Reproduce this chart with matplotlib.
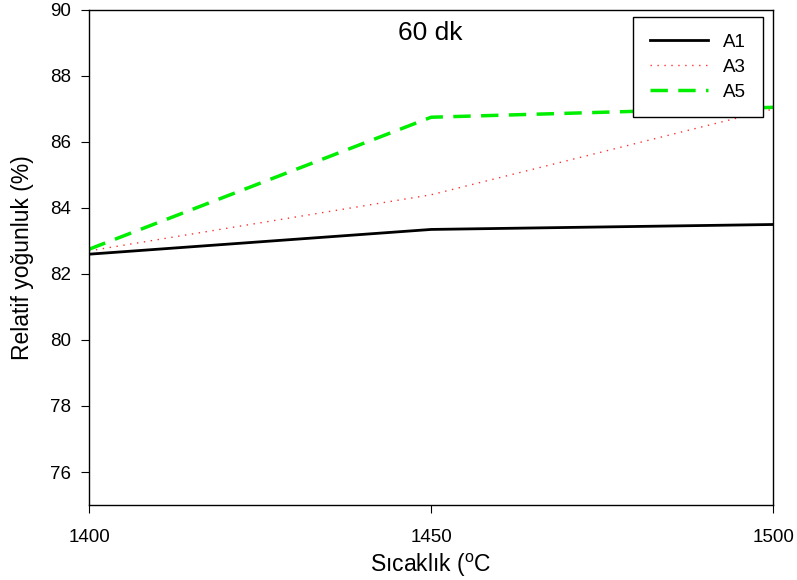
import matplotlib
matplotlib.use('Agg')
import matplotlib.pyplot as plt

plt.rcParams['font.family'] = ['Liberation Sans', 'DejaVu Sans']
plt.rcParams['mathtext.fontset'] = 'custom'
plt.rcParams['mathtext.rm'] = 'Liberation Sans'

temps = [1400, 1450, 1500]
a1 = [82.6, 83.35, 83.5]
a3 = [82.7, 84.4, 87.0]
a5 = [82.75, 86.75, 87.05]

fig = plt.figure(figsize=(7.97, 5.80), dpi=100)
ax = fig.add_axes([0.1117, 0.1293, 0.8585, 0.8535])

ax.plot(temps, a1, color='black', lw=2, label='A1')
ax.plot(temps, a3, color='#ff3030', lw=1, ls=(0, (1, 4)), label='A3')
ax.plot(temps, a5, color='#00ee00', lw=2.5, ls=(0, (5, 3)), label='A5')

ax.set_xlim(1400, 1500)
ax.set_ylim(75, 90)
ax.set_xticks(temps)
ax.set_yticks([76, 78, 80, 82, 84, 86, 88, 90])
ax.tick_params(direction='out', length=6, labelsize=13.5, top=False, right=False)
ax.tick_params(axis='x', pad=11)
ax.tick_params(axis='y', pad=7)
for s in ax.spines.values():
    s.set_linewidth(1)

ax.set_xlabel(r'Sıcaklık ($^{\rm o}$C', fontsize=16.5)
ax.set_ylabel('Relatif yoğunluk (%)', fontsize=16.5)
ax.yaxis.set_label_coords(-0.08, 0.5)
ax.xaxis.set_label_coords(0.5, -0.095)
ax.text(0.4985, 0.9535, '60 dk', transform=ax.transAxes, ha='center', va='center', fontsize=19)

leg = ax.legend(loc='upper right', bbox_to_anchor=(0.9854, 0.9859), borderaxespad=0,
                fontsize=13.5, fancybox=False, edgecolor='black', framealpha=1,
                handlelength=3.1, handletextpad=0.8, borderpad=0.9, labelspacing=0.41)
leg.get_frame().set_linewidth(1)

fig.savefig('out.png')
